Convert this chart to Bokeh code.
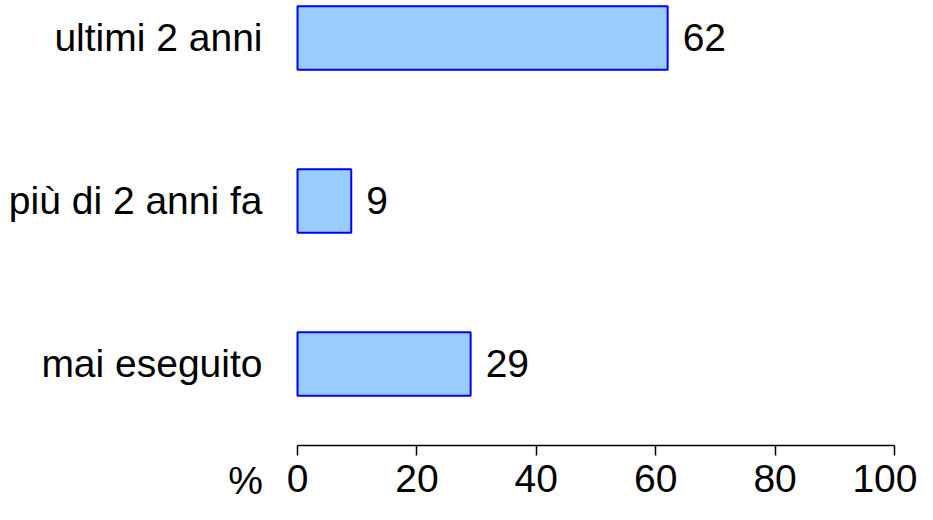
from bokeh.plotting import figure
from bokeh.models import Range1d, FixedTicker, LinearAxis, ColumnDataSource
from bokeh.core.properties import value
from bokeh.embed import file_html
from bokeh.resources import INLINE

categories = ["mai eseguito", "più di 2 anni fa", "ultimi 2 anni"]
values = [29, 9, 62]
x_ticks = [0, 20, 40, 60, 80, 100]
unit_label = "%"

FONT = "Liberation Sans"
FS = "39px"
UNIT_POS = -8.7

ypos = [i + 0.5 for i in range(len(categories))]
src = ColumnDataSource(dict(y=ypos, v=values, lab=[str(v) for v in values]))

p = figure(width=917, height=504, output_backend="svg", toolbar_location=None,
           x_range=Range1d(-49.75, 103.85), y_range=Range1d(-0.362, 2.730),
           x_axis_type=None, y_axis_type=None,
           min_border_left=0, min_border_right=0, min_border_top=0, min_border_bottom=0)
p.outline_line_color = None
p.grid.visible = False
p.background_fill_color = "white"

p.hbar(y="y", left=0, right="v", height=0.39, source=src,
       fill_color="#99CCFF", line_color="#0000FF", line_width=2)
p.text(x="v", y="y", text="lab", source=src, x_offset=15, text_align="left",
       text_baseline="middle", text_font=value(FONT), text_font_size=value(FS),
       text_color="black")
# axis baseline from first to last tick
p.segment(x0=[x_ticks[0]], y0=[0], x1=[x_ticks[-1]], y1=[0], line_color="black", line_width=1.5)

xax = LinearAxis(ticker=FixedTicker(ticks=x_ticks), fixed_location=0)
xax.axis_line_color = None
xax.minor_tick_line_color = None
xax.major_tick_in = 0
xax.major_tick_out = 10
xax.major_tick_line_width = 1.5
xax.major_label_text_font = FONT
xax.major_label_text_font_size = FS
xax.major_label_standoff = 10
xax.major_label_text_color = "black"
p.add_layout(xax, "below")

uax = LinearAxis(ticker=FixedTicker(ticks=[UNIT_POS]), fixed_location=0,
                 major_label_overrides={UNIT_POS: unit_label})
uax.axis_line_color = None
uax.major_tick_line_color = None
uax.minor_tick_line_color = None
uax.major_tick_in = 0
uax.major_tick_out = 10
uax.major_label_text_font = FONT
uax.major_label_text_font_size = FS
uax.major_label_standoff = 4
uax.major_label_text_color = "black"
p.add_layout(uax, "below")

yax = LinearAxis(ticker=FixedTicker(ticks=ypos), fixed_location=0,
                 major_label_overrides={y: c for y, c in zip(ypos, categories)})
yax.axis_line_color = None
yax.major_tick_line_color = None
yax.minor_tick_line_color = None
yax.major_label_text_font = FONT
yax.major_label_text_font_size = FS
yax.major_label_standoff = 29
yax.major_label_text_color = "black"
p.add_layout(yax, "left")

open("out.html", "w").write(file_html(p, INLINE))
